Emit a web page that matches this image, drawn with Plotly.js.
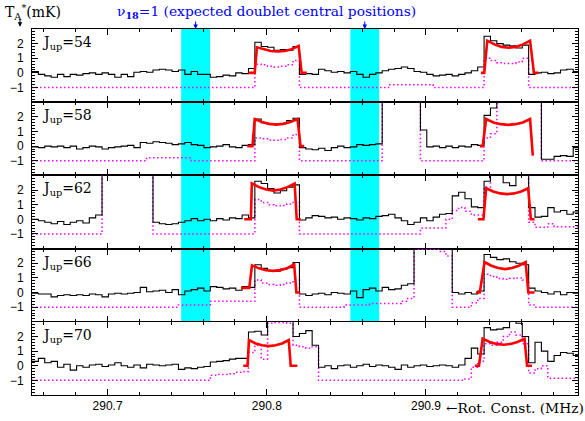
<!DOCTYPE html>
<html><head><meta charset="utf-8">
<script src="https://cdn.plot.ly/plotly-3.0.1.min.js"></script>
<style>html,body{margin:0;padding:0;background:#fff}#chart{width:585px;height:421px}</style>
</head><body><div id="chart"></div>
<script>
// ---------------- data ----------------
const jUp = [54, 58, 62, 66, 70];
const chanStart = 290.6525;   // first channel edge (MHz, rot. const. scale)
const chanWidth = 0.004;      // channel width
const xTickVals = [290.7, 290.8, 290.9];
const xTickText = ['290.7', '290.8', '290.9'];
const yTickVals = [-1, 0, 1, 2];
const bandLo = [290.7462, 290.8525];   // expected doublet positions (cyan)
const bandHi = [290.7644, 290.8706];

const black54 = [0.1,-0.1,-0.2,-0.3,-0.1,-0.25,-0.1,-0.15,-0.05,0.0,
  -0.1,0.0,-0.1,-0.3,-0.1,-0.25,0.05,0.1,0.05,0.2,
  0.25,0.2,0.1,0.2,-0.1,0.1,-0.1,-0.1,-0.3,-0.25,
  -0.15,-0.2,0.0,-0.05,0.3,2.1,1.8,1.75,1.55,1.6,
  1.55,1.8,-0.1,-0.05,-0.1,0.25,0.15,0.05,0.1,0.0,
  0.1,-0.1,-0.3,-0.1,0.0,0.15,0.25,0.3,0.4,0.3,
  0.1,0.05,-0.1,-0.2,-0.15,-0.1,-0.2,-0.1,0.0,0.15,
  0.4,2.5,2.2,2.0,1.9,1.85,1.7,1.9,-0.1,0.0,
  0.05,-0.05,0.0,0.2,0.25,0.1];
const black58 = [-0.05,-0.1,0.0,-0.05,0.0,-0.1,0.0,-0.2,-0.1,0.0,
  -0.05,-0.2,-0.1,-0.05,0.0,0.05,-0.1,0.25,0.2,0.3,
  0.25,0.2,0.1,0.15,0.25,0.1,0.05,-0.1,-0.05,0.0,
  0.1,-0.05,-0.1,0.05,0.1,1.85,1.6,1.5,1.5,1.55,
  1.75,1.9,-0.1,-0.2,-0.25,-0.15,-0.3,-0.1,0.0,-0.1,
  -0.05,0.1,0.05,0.1,0.15,3.5,3.5,3.5,3.5,3.5,
  3.5,1.1,-0.05,0.0,-0.1,0.0,-0.1,0.0,-0.05,0.1,
  0.05,2.1,2.6,3.5,3.5,3.5,3.5,3.5,3.5,3.5,
  -0.9,-0.9,-0.7,-0.65,-0.7,-0.1];
const black62 = [0.0,-0.1,-0.2,-0.3,-0.15,-0.35,-0.2,-0.1,-0.25,0.1,
  0.3,3.5,3.5,3.5,3.5,3.5,3.5,3.5,3.5,-0.2,
  -0.3,-0.35,-0.3,-0.2,-0.1,0.05,-0.1,0.0,-0.1,0.05,
  -0.05,0.1,0.05,0.3,0.1,2.6,2.45,2.1,1.8,1.95,
  2.2,2.35,-0.05,0.1,0.25,0.2,0.1,0.15,0.0,0.1,
  0.05,-0.05,0.1,0.05,0.2,0.25,0.35,0.1,-0.1,-0.35,
  -0.2,0.1,-0.1,0.15,0.35,0.4,1.6,1.85,1.4,0.85,
  0.8,2.6,3.5,3.5,2.5,2.3,3.5,3.5,0.8,0.15,
  0.2,0.8,0.5,0.6,0.35,0.5];
const black66 = [-0.05,-0.1,-0.1,-0.3,-0.2,-0.15,-0.2,-0.15,-0.2,-0.1,
  -0.15,-0.3,-0.1,-0.05,-0.1,-0.05,0.0,0.35,0.05,0.1,
  0.15,0.0,0.2,-0.15,0.1,0.2,0.3,0.1,0.4,0.35,
  0.25,0.3,0.15,0.4,0.35,1.9,1.65,1.5,1.45,1.6,
  1.7,2.05,-0.1,-0.2,-0.1,-0.05,-0.15,0.0,-0.05,-0.1,
  0.1,-0.35,0.2,0.3,0.1,0.35,0.2,0.25,0.5,0.6,
  3.5,3.5,3.5,3.5,3.5,3.5,0.0,-0.1,0.0,-0.1,
  0.1,2.6,2.4,2.25,2.3,2.1,2.0,1.9,0.3,0.1,
  0.0,-0.1,0.05,-0.15,0.0,-0.05];
const black70 = [0.3,0.5,0.2,0.3,-0.1,0.1,-0.3,0.0,-0.1,0.05,
  0.1,-0.05,0.05,0.2,0.0,-0.1,0.05,-0.15,0.1,0.05,
  0.0,0.05,0.1,-0.25,-0.15,-0.2,-0.1,-0.05,0.25,0.3,
  0.35,0.45,0.5,0.5,2.3,2.35,2.1,3.5,3.5,3.5,
  3.5,2.0,2.2,2.4,1.4,-0.1,0.0,-0.2,0.0,0.05,
  -0.1,0.0,0.1,-0.05,0.05,0.0,-0.1,-0.25,0.05,-0.1,
  0.0,0.05,-0.05,0.0,0.05,0.0,-0.1,0.05,0.5,1.2,
  0.8,2.6,2.45,2.5,2.6,3.5,2.9,2.0,0.2,1.6,
  1.0,0.3,0.7,0.9,0.85,0.7];

const magenta54 = [-1,-1,-1,-1,-1,-1,-1,-1,-1,-1,
  -1,-1,-1,-1,-1,-1,-1,-1,-1,-1,
  -1,-1,-1,-1,-1,-1,-1,-1,-1,-1,
  -1,-1,-1,-1,-1,0.6,0.55,0.45,0.4,0.45,
  0.55,0.85,-1,-1,-1,-1,-1,-1,-1,-1,
  -1,-1,-1,-1,-1,-1,-0.8,-0.8,-0.8,-0.8,
  -0.8,-0.8,-0.8,-1,-1,-1,-1,-1,-1,-1,
  -1,1.0,0.85,0.7,0.65,0.65,0.75,1.0,-1,-1,
  -1,-1,-1,-1,-1,-1];
const magenta58 = [-1,-1,-1,-1,-1,-1,-1,-1,-1,-1,
  -1,-1,-1,-1,-1,-1,-1,-1,-0.8,-0.8,
  -0.8,-0.8,-0.8,-0.8,-0.8,-1,-1,-1,-1,-1,
  -1,-1,-1,-1,-1,0.55,0.5,0.42,0.4,0.45,
  0.55,0.8,-1,-1,-1,-1,-1,-1,-1,-1,
  -1,-1,-1,-1,-1,3.5,3.5,3.5,3.5,3.5,
  3.5,-1,-1,-1,-1,-1,-1,-1,-1,-1,
  -1,0.55,0.85,3.5,3.5,3.5,3.5,3.5,3.5,3.5,
  -1,-1,-1,-1,-1,-1];
const magenta62 = [-1,-1,-1,-1,-1,-1,-1,-1,-1,-1,
  -1,3.5,3.5,3.5,3.5,3.5,3.5,3.5,3.5,-1,
  -1,-1,-1,-1,-1,-1,-1,-1,-1,-1,
  -1,-1,-1,-1,-1,1.35,1.15,1.0,0.92,0.95,
  1.05,1.2,-1,-1,-1,-1,-1,-1,-1,-1,
  -1,-1,-1,-1,-1,-1,-1,-1,-1,-1,
  -1,-0.6,-0.6,-0.6,-0.6,0.0,0.6,0.8,0.55,0.3,
  0.3,2.2,3.5,3.5,3.5,3.5,3.5,3.5,-0.2,-0.55,
  -0.55,-0.3,-0.5,-0.5,-0.5,-0.5];
const magenta66 = [-1,-1,-1,-1,-1,-1,-1,-1,-1,-1,
  -1,-1,-1,-1,-1,-1,-1,-1,-1,-1,
  -1,-1,-1,-0.85,-0.85,-0.85,-0.85,-0.85,-0.6,-0.6,
  -0.6,-0.6,-0.6,-0.6,-0.6,0.85,0.65,0.55,0.5,0.55,
  0.65,0.85,-1,-1,-1,-1,-1,-1,-1,-0.85,
  -0.85,-0.85,-0.85,-0.75,-0.75,-0.75,-0.75,-0.75,-0.6,-0.4,
  2.95,2.95,2.95,2.95,2.8,2.5,-1,-1,-1,-0.7,
  -0.4,1.25,1.1,0.95,0.9,0.95,1.0,0.85,-0.85,-1,
  -1,-1,-1,-1,-1,-1];
const magenta70 = [-1,-1,-1,-1,-1,-1,-1,-1,-1,-1,
  -1,-1,-1,-1,-1,-1,-1,-1,-1,-1,
  -1,-1,-1,-1,-1,-1,-1,-1,-0.65,-0.6,
  -0.6,-0.55,-0.45,-0.4,0.9,1.4,0.45,2.9,2.95,2.95,
  2.9,1.4,1.3,1.2,1.3,-1,-1,-1,-1,-1,
  -1,-1,-1,-1,-1,-1,-1,-1,-1,-1,
  -1,-1,-1,-1,-1,-1,-1,-1,-0.9,-0.1,
  0.3,1.5,1.4,1.6,2.0,2.3,2.1,1.5,-0.5,-0.2,
  0.0,-0.85,-0.85,-0.85,-0.85,-0.85];

const redX54 = [290.7884,290.7924,290.7938,290.7982,290.8025,290.8069,290.8113,290.8156,290.8200,290.8219,290.8252,null,
  290.9345,290.9366,290.9385,290.9430,290.9475,290.9520,290.9564,290.9609,290.9654,290.9678,290.9706];
const redY54 = [0,0,1.75,1.6,1.5,1.46,1.5,1.62,1.85,0,0,null,
  0,0,2.2,1.95,1.78,1.72,1.78,1.95,2.2,0,0];
const redX58 = [290.7877,290.7910,290.7924,290.7969,290.8014,290.8059,290.8103,290.8148,290.8193,290.8212,290.8235,null,
  290.9338,290.9356,290.9378,290.9424,290.9470,290.9516,290.9562,290.9608,290.9654,290.9671];
const redY58 = [0,0,1.85,1.65,1.52,1.47,1.52,1.65,1.85,0,0,null,
  0,0,1.85,1.62,1.5,1.45,1.5,1.62,1.85,-0.65];
const redX62 = [290.7858,290.7900,290.7906,290.7951,290.7996,290.8041,290.8085,290.8130,290.8175,290.8188,290.8213,null,
  290.9326,290.9361,290.9378,290.9422,290.9466,290.9510,290.9554,290.9598,290.9642,290.9659,290.9682];
const redY62 = [0,0,2.45,2.2,2.03,1.96,2.03,2.2,2.45,0,0,null,
  0,0,2.12,1.9,1.77,1.72,1.77,1.9,2.12,0,0];
const redX66 = [290.7838,290.7890,290.7907,290.7951,290.7995,290.8040,290.8084,290.8128,290.8172,290.8186,290.8210,null,
  290.9314,290.9338,290.9368,290.9411,290.9454,290.9497,290.9540,290.9583,290.9626,290.9643,290.9682];
const redY66 = [0.32,0.32,1.86,1.65,1.52,1.48,1.53,1.66,1.92,0,0,null,
  0,0,2.08,1.83,1.67,1.6,1.67,1.83,2.08,0,0];
const redX70 = [290.7852,290.7879,290.7888,290.7930,290.7971,290.8013,290.8055,290.8096,290.8138,290.8150,290.8192,null,
  290.9307,290.9333,290.9356,290.9400,290.9444,290.9488,290.9531,290.9575,290.9619,290.9635,290.9666];
const redY70 = [0,0,1.75,1.52,1.4,1.34,1.4,1.52,1.75,0,0,null,
  0,0,1.85,1.62,1.49,1.43,1.49,1.62,1.85,0,0];

// ---------------- build ----------------
const blacks = [black54, black58, black62, black66, black70];
const magentas = [magenta54, magenta58, magenta62, magenta66, magenta70];
const redXs = [redX54, redX58, redX62, redX66, redX70];
const redYs = [redY54, redY58, redY62, redY66, redY70];

function edges(n) {
  const e = [];
  for (let i = 0; i <= n; i++) e.push(+(chanStart + i * chanWidth).toFixed(5));
  return e;
}
function stepY(v) { return v.concat([v[v.length - 1]]); }

const xRange = [290.6525, 290.9955];
const SERIF = '"DejaVu Serif", serif';
const SANS = '"Liberation Sans", Arial, sans-serif';

const traces = [];
const layout = {
  width: 585, height: 421,
  margin: {l: 32, r: 7, t: 29, b: 26, pad: 0},
  paper_bgcolor: '#ffffff', plot_bgcolor: '#ffffff',
  showlegend: false,
  font: {family: SANS, size: 12, color: '#000'},
  shapes: [], annotations: []
};

for (let k = 0; k < 5; k++) {
  const xa = k === 0 ? 'x' : 'x' + (k + 1);
  const ya = k === 0 ? 'y' : 'y' + (k + 1);
  const xe = edges(blacks[k].length);
  traces.push({x: xe, y: stepY(magentas[k]), xaxis: xa, yaxis: ya, mode: 'lines',
    line: {shape: 'hv', color: '#ff00ff', width: 1.5, dash: '1.5px,2.5px'}, hoverinfo: 'skip'});
  traces.push({x: xe, y: stepY(blacks[k]), xaxis: xa, yaxis: ya, mode: 'lines',
    line: {shape: 'hv', color: '#000000', width: 1.1}, hoverinfo: 'skip'});
  traces.push({x: redXs[k], y: redYs[k], xaxis: xa, yaxis: ya, mode: 'lines',
    line: {color: '#ff0000', width: 2.6}, connectgaps: false, hoverinfo: 'skip'});

  const top = 1 - k * 0.2;
  layout[k === 0 ? 'xaxis' : 'xaxis' + (k + 1)] = {
    range: xRange, anchor: ya, matches: k === 0 ? undefined : 'x',
    showline: true, linecolor: '#000', linewidth: 1, mirror: 'ticks',
    ticks: 'inside', ticklen: 6, tickwidth: 1, tickcolor: '#000',
    tickmode: 'array', tickvals: xTickVals, ticktext: xTickText,
    showticklabels: k === 4, tickfont: {family: SANS, size: 12, color: '#000'},
    minor: {tickmode: 'linear', tick0: 290.6, dtick: 0.02, ticks: 'inside', ticklen: 3, tickcolor: '#000', showgrid: false},
    showgrid: false, zeroline: false, fixedrange: true
  };
  layout[k === 0 ? 'yaxis' : 'yaxis' + (k + 1)] = {
    domain: [top - 0.2, top], range: [-2, 3], anchor: xa,
    showline: true, linecolor: '#000', linewidth: 1, mirror: 'ticks',
    ticks: 'inside', ticklen: 6, tickwidth: 1, tickcolor: '#000',
    tickmode: 'array', tickvals: yTickVals, ticklabelstandoff: 5,
    tickfont: {family: SANS, size: 12, color: '#000'},
    minor: {tickmode: 'linear', tick0: 0, dtick: 0.2, ticks: 'inside', ticklen: 3, tickcolor: '#000', showgrid: false},
    showgrid: false, zeroline: false, fixedrange: true
  };
  layout.annotations.push({
    text: 'J<sub>up</sub>=' + jUp[k], xref: 'paper', yref: 'paper',
    x: 0.015, y: top - 0.038, xanchor: 'left', yanchor: 'middle', showarrow: false,
    font: {family: SERIF, size: 14, color: '#000'}
  });
}

for (let b = 0; b < bandLo.length; b++) {
  layout.shapes.push({type: 'rect', xref: 'x', yref: 'paper', x0: bandLo[b], x1: bandHi[b], y0: 0, y1: 1,
    fillcolor: '#00ffff', line: {width: 0}, layer: 'below'});
  layout.annotations.push({text: '', xref: 'x', yref: 'paper', x: (bandLo[b] + bandHi[b]) / 2, y: 1.0,
    ax: 0, ay: -9, showarrow: true, arrowhead: 2, arrowsize: 0.9, arrowwidth: 1, arrowcolor: '#0000ff'});
}

layout.annotations.push({
  text: 'ν<sub><b>18</b></sub>=1 (expected doublet central positions)', xref: 'paper', yref: 'paper',
  x: 0.43, y: 1.046, xanchor: 'center', yanchor: 'middle', showarrow: false,
  font: {family: SERIF, size: 13.8, color: '#0000ff'}
});
layout.annotations.push({
  text: 'T<sub>A</sub><sup>*</sup>(mK)', xref: 'paper', yref: 'paper',
  x: -0.053, y: 1.046, xanchor: 'left', yanchor: 'middle', showarrow: false,
  font: {family: SERIF, size: 14, color: '#000'}
});
layout.annotations.push({text: '', xref: 'paper', yref: 'paper', x: -0.022, y: 1.006,
  ax: 0, ay: -9, showarrow: true, arrowhead: 2, arrowsize: 0.9, arrowwidth: 1, arrowcolor: '#000'});
layout.annotations.push({
  text: '←Rot. Const. (MHz)', xref: 'paper', yref: 'paper',
  x: 0.754, y: -0.036, xanchor: 'left', yanchor: 'middle', showarrow: false,
  font: {family: SERIF, size: 13.8, color: '#000'}
});

Plotly.newPlot('chart', traces, layout, {displayModeBar: false, staticPlot: true});
</script></body></html>
